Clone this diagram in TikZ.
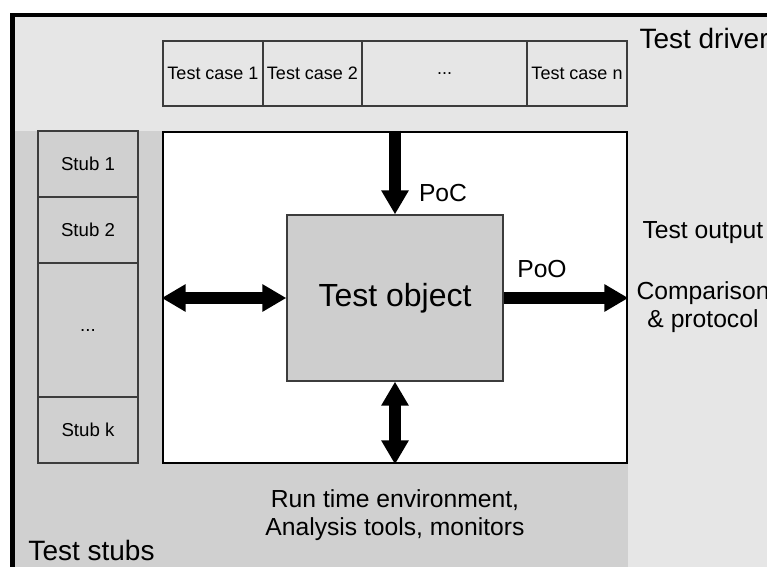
\documentclass[tikz,border=0pt]{standalone}
\usepackage{fontspec}
\setmainfont{Liberation Sans}
\usetikzlibrary{arrows.meta}

\definecolor{drivergray}{RGB}{230,230,230}
\definecolor{stubgray}{RGB}{208,208,208}
\definecolor{objgray}{RGB}{206,206,206}
\definecolor{boxline}{RGB}{60,60,60}

\tikzset{every picture/.style={line width=0.75pt}}
\tikzset{
  casebox/.style={draw=boxline, line width=1pt, fill=drivergray, minimum height=48.75pt, inner sep=0pt, font=\fontsize{13.5}{16}\selectfont},
  stubbox/.style={draw=boxline, line width=1pt, fill=stubgray, minimum width=75pt, inner sep=0pt, font=\fontsize{14}{16}\selectfont},
  bigarrow/.style={line width=9pt, >={Triangle[length=18pt,width=19.5pt]}},
  biglabel/.style={font=\fontsize{18.5}{21}\selectfont, inner sep=0pt}
}

\begin{document}
\begin{tikzpicture}[x=0.75pt,y=0.75pt,yscale=-1,xscale=1]
	%set diagram left start at 0, and has height of 567
	\useasboundingbox (0,0) rectangle (767,567);

	%Shape: Rectangle [driver area]
	\fill [drivergray] (12,15) rectangle (767,567);
	%Shape: Rectangle [stub area]
	\fill [stubgray] (12,131) rectangle (628,567);
	%Straight Lines [frame]
	\draw [line width=3.5pt] (12.5,567) -- (12.5,15) -- (767,15);

	%Shape: Rectangle [test cases]
	\draw (213,73.5) node [casebox, minimum width=75pt] (case1) {Test case 1};
	\draw (312.5,73.5) node [casebox, minimum width=74.25pt] (case2) {Test case 2};
	\draw (444.5,73.5) node [casebox, minimum width=123.75pt] (casedots) {...};
	\draw (577,73.5) node [casebox, minimum width=75pt] (casen) {Test case n};

	%Shape: Rectangle [stubs]
	\draw (88,164) node [stubbox, minimum height=49.5pt] (stub1) {Stub 1};
	\draw (88,230) node [stubbox, minimum height=49.5pt] (stub2) {Stub 2};
	\draw (88,330) node [stubbox, minimum height=100.5pt] (stubdots) {...};
	\draw (88,430) node [stubbox, minimum height=49.5pt] (stubk) {Stub k};

	%Shape: Rectangle [environment]
	\draw (395,297.5) node [draw, line width=2pt, fill=white, minimum width=348pt, minimum height=248.25pt] (env) {};
	%Shape: Rectangle [test object]
	\draw (395,298) node [draw=boxline, line width=1pt, fill=objgray, minimum width=162pt, minimum height=124.5pt, font=\fontsize{24}{28}\selectfont] (obj) {Test object};

	%Straight Lines [arrows]
	\draw [bigarrow, ->] (env.north) -- (obj.north);
	\draw [bigarrow, <->] (env.west |- obj.west) -- (obj.west);
	\draw [bigarrow, <->] (obj.south) -- (env.south);
	\draw [bigarrow, ->] (obj.east) -- (env.east |- obj.east);

	% Text Node
	\draw (443,193) node [biglabel] (poc) {PoC};
	% Text Node
	\draw (542,269) node [biglabel] (poo) {PoO};
	% Text Node
	\draw (639,38) node [anchor=west, inner sep=0pt, font=\fontsize{21}{24}\selectfont] (driver) {Test driver};
	% Text Node
	\draw (642,233) node [biglabel, anchor=west] (output) {Test output};
	% Text Node
	\draw (703,307) node [biglabel, align=center] (compare) {Comparison\\\& protocol};
	% Text Node
	\draw (395,515) node [biglabel, align=center] (runtime) {Run time environment,\\Analysis tools, monitors};
	% Text Node
	\draw (28,550) node [anchor=west, inner sep=0pt, font=\fontsize{21}{24}\selectfont] (stubs) {Test stubs};

\end{tikzpicture}
\end{document}
